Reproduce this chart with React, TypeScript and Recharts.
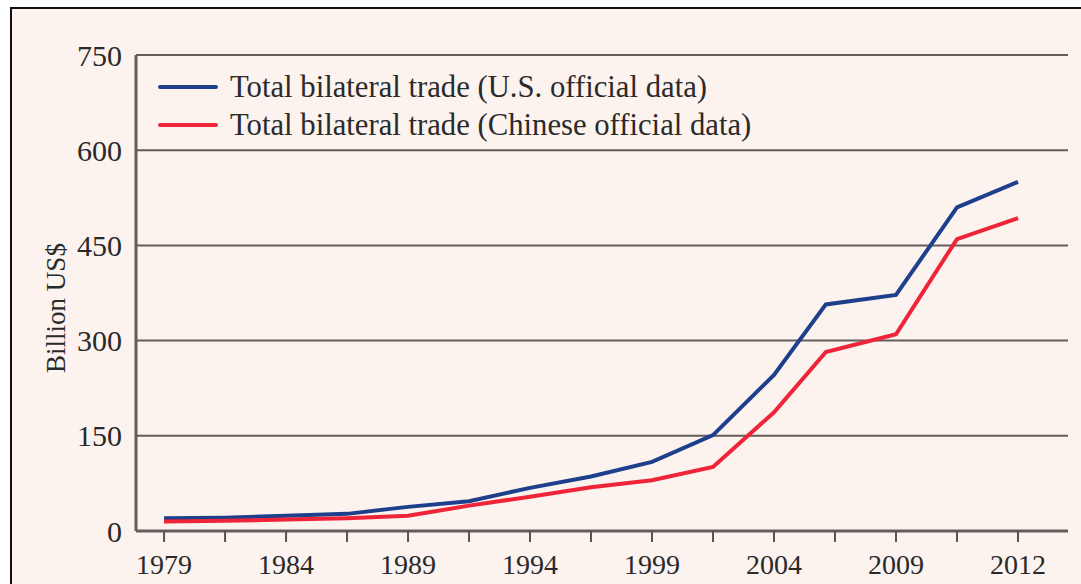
import React from 'react';
import { LineChart, Line, XAxis, YAxis, CartesianGrid } from 'recharts';

// slot positions along the category axis (labels every second slot)
const slots = [0, 1, 2, 3, 4, 5, 6, 7, 8, 9, 10, 10.85, 12, 13, 14];
const tickSlots = [0, 1, 2, 3, 4, 5, 6, 7, 8, 9, 10, 11, 12, 13, 14];
const tickLabels = ['1979', '', '1984', '', '1989', '', '1994', '', '1999', '', '2004', '', '2009', '', '2012'];

const usTrade = [20, 21, 24, 27, 38, 47, 68, 86, 109, 151, 246, 357, 372, 510, 550];
const cnTrade = [15, 16, 18, 20, 24, 40, 54, 69, 80, 101, 187, 282, 310, 460, 493];

const yTicks = [0, 150, 300, 450, 600, 750];

const seriesNames = [
  'Total bilateral trade (U.S. official data)',
  'Total bilateral trade (Chinese official data)',
];

const BLUE = '#1e3f8c';
const RED = '#ee2438';
const FONT = '"Liberation Serif", "DejaVu Serif", serif';

const chartData = slots.map((s, i) => ({ slot: s, us: usTrade[i], cn: cnTrade[i] }));

const LegendBox = () => (
  <div style={{ position: 'absolute', left: 158, top: 68, fontFamily: FONT, fontSize: 30.7, color: '#2a2a2a', lineHeight: '38px' }}>
    {seriesNames.map((n, i) => (
      <div key={n} style={{ display: 'flex', alignItems: 'center' }}>
        <div style={{ width: 60, height: 4, background: i === 0 ? BLUE : RED, marginRight: 12, borderRadius: 2 }} />
        <span>{n}</span>
      </div>
    ))}
  </div>
);

const YLabel = (props: any) => {
  const vb = props.viewBox || {};
  const cx = vb.x + 20;
  const cy = vb.y + vb.height / 2 + 15;
  return (
    <text x={cx} y={cy} transform={`rotate(-90 ${cx} ${cy})`} textAnchor="middle" dominantBaseline="central"
      style={{ fontFamily: FONT, fontSize: 27, fill: '#2a2a2a' }}>
      Billion US$
    </text>
  );
};

export default function App() {
  return (
    <div style={{ position: 'absolute', left: 0, top: 0, width: 1081, height: 584, background: '#fff', overflow: 'hidden' }}>
      <div style={{ position: 'absolute', left: 10, top: 7, width: 1090, height: 600, border: '2px solid #111', background: '#fcf2ee' }} />
      <div style={{ position: 'absolute', left: 0, top: 0 }}>
        <LineChart width={1081} height={584} data={chartData} margin={{ top: 55, right: 13, bottom: 13, left: 36 }}>
          <CartesianGrid vertical={false} horizontal stroke="#625e5c" strokeWidth={2} />
          <XAxis
            dataKey="slot"
            type="number"
            domain={[-0.46, 14.82]}
            ticks={tickSlots}
            tickFormatter={(v: number) => tickLabels[Math.round(v)] ?? ''}
            interval={0}
            height={40}
            axisLine={{ stroke: '#625e5c', strokeWidth: 3 }}
            tickLine={{ stroke: '#555', strokeWidth: 2 }}
            tickSize={11}
            tickMargin={12}
            tick={{ fontFamily: FONT, fontSize: 28, fill: '#2a2a2a' }}
          />
          <YAxis
            domain={[0, 750]}
            ticks={yTicks}
            width={100}
            axisLine={{ stroke: '#625e5c', strokeWidth: 3 }}
            tickLine={false}
            tickSize={0}
            tickMargin={14}
            tick={{ fontFamily: FONT, fontSize: 30, fill: '#2a2a2a' }}
            label={<YLabel />}
          />
          <Line type="linear" dataKey="us" stroke={BLUE} strokeWidth={4} dot={false} isAnimationActive={false} />
          <Line type="linear" dataKey="cn" stroke={RED} strokeWidth={4} dot={false} isAnimationActive={false} />
        </LineChart>
      </div>
      <LegendBox />
    </div>
  );
}
